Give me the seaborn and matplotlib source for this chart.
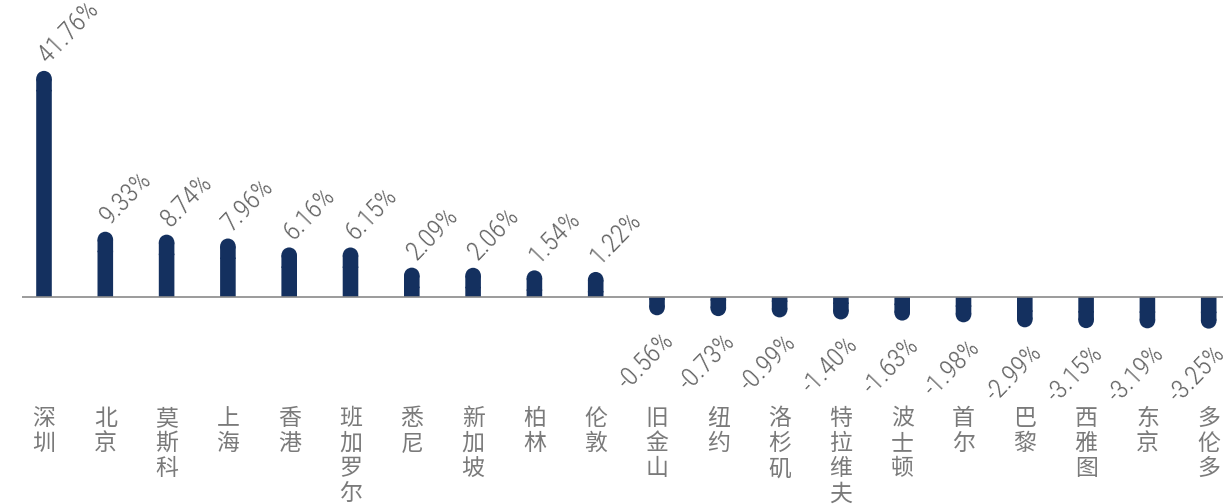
import numpy as np
import matplotlib
matplotlib.use("Agg")
import matplotlib.pyplot as plt
from matplotlib.patches import Rectangle, Ellipse
import seaborn as sns

cities = ["深圳", "北京", "莫斯科", "上海", "香港", "班加罗尔", "悉尼", "新加坡", "柏林", "伦敦",
          "旧金山", "纽约", "洛杉矶", "特拉维夫", "波士顿", "首尔", "巴黎", "西雅图", "东京", "多伦多"]
changes = [41.76, 9.33, 8.74, 7.96, 6.16, 6.15, 2.09, 2.06, 1.54, 1.22,
           -0.56, -0.73, -0.99, -1.40, -1.63, -1.98, -2.99, -3.15, -3.19, -3.25]

NAVY = "#14305f"
AXIS_GREY = "#8a8a8a"
VALUE_GREY = "#606060"
NAME_GREY = "#7a7a7a"

DPI = 100
W_PX, H_PX = 1223, 504
PX = 72.0 / DPI  # points per pixel

sns.set_theme(style="white")
plt.rcParams["font.family"] = ["Noto Sans CJK SC", "DejaVu Sans"]

fig = plt.figure(figsize=(W_PX / DPI, H_PX / DPI), dpi=DPI)
ax = fig.add_axes([22 / W_PX, 104 / H_PX, 1 - 22 / W_PX, 1 - 104 / H_PX])

step_px = 61.3       # distance between categories
unit_px = 4.96       # pixels per percentage point
bar_px = 15.6        # bar thickness
zero_px = 297        # zero line, from the top of the figure
bar_w = bar_px / step_px

sns.barplot(x=cities, y=changes, order=cities, color=NAVY, saturation=1,
            width=bar_w, linewidth=0, ax=ax)

ax.set_xlim(-(44 - 22) / step_px, (1223 - 44) / step_px)
ax.set_ylim(-(400 - zero_px) / unit_px, zero_px / unit_px)

# Every bar gets a short stub of fixed screen length past its value,
# finished with a rounded tip.
pos_pad, neg_pad = 19.0, 15.5
r_px = bar_px / 2
overlap = 1.5 / unit_px
for p in list(ax.patches):
    c = p.get_x() + p.get_width() / 2
    p.set_width(bar_w)
    p.set_x(c - bar_w / 2)
    p.set_edgecolor("none")
    p.set_snap(False)
    v = p.get_y() + p.get_height()          # far end of the bar
    sign = 1 if v >= 0 else -1
    pad = pos_pad if sign > 0 else neg_pad
    stub = (pad - r_px) / unit_px
    stub_rect = Rectangle((c - bar_w / 2, v - sign * overlap), bar_w,
                          sign * (stub + overlap), facecolor=NAVY,
                          edgecolor="none", snap=False, clip_on=False, zorder=2)
    tip = Ellipse((c, v + sign * stub), bar_w, 2 * r_px / unit_px, facecolor=NAVY,
                  edgecolor="none", clip_on=False, zorder=2)
    ax.add_patch(stub_rect)
    ax.add_patch(tip)

ax.axhline(0, color=AXIS_GREY, linewidth=1.2, zorder=1)

value_font = ["Roboto Condensed", "Liberation Sans Narrow", "Roboto", "DejaVu Sans"]
for i, v in enumerate(changes):
    if v > 0:
        ax.annotate(f"{v:.2f}%", xy=(i, v), xytext=(8 * PX, (pos_pad + 3) * PX),
                    textcoords="offset points", rotation=46, rotation_mode="anchor",
                    ha="left", va="bottom", fontsize=19, color=VALUE_GREY,
                    family=value_font, fontweight="light", annotation_clip=False)
    else:
        ax.annotate(f"{v:.2f}%", xy=(i, v), xytext=(4 * PX, -(neg_pad + 13) * PX),
                    textcoords="offset points", rotation=46, rotation_mode="anchor",
                    ha="right", va="top", fontsize=19, color=VALUE_GREY,
                    family=value_font, fontweight="light", annotation_clip=False)

xs = np.arange(len(cities))
ax.set_xticks(xs)
ax.set_xticklabels(["\n".join(c) for c in cities], fontsize=16.5, color=NAME_GREY,
                   linespacing=1.12, va="top", fontweight="light")
ax.tick_params(axis="x", length=0, pad=5)
ax.set_yticks([])
ax.set_xlabel("")
ax.set_ylabel("")
for s in ax.spines.values():
    s.set_visible(False)
ax.patch.set_alpha(0)

fig.savefig("out.png", dpi=DPI)
